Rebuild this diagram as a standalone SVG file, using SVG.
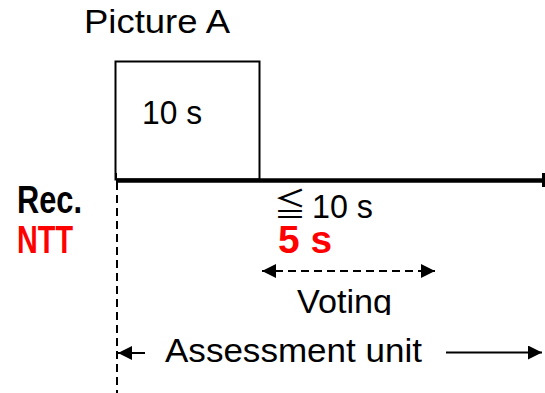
<svg xmlns="http://www.w3.org/2000/svg" width="545" height="393" viewBox="0 0 545 393">
<style>
  .t { font-family: "Liberation Sans", "Noto Sans CJK JP", sans-serif; font-size: 34px; fill: #000; }
  .b { font-family: "Liberation Sans", "Noto Sans CJK JP", sans-serif; font-size: 38px; font-weight: bold; }
  .red { fill: #ff0000; }
  .dash { stroke: #000; stroke-width: 2; stroke-dasharray: 8 5; fill: none; }
  .ln { stroke: #000; fill: none; }
</style>
<defs>
  <marker id="ah" viewBox="0 0 10 10" refX="10" refY="5" markerWidth="16" markerHeight="14" markerUnits="userSpaceOnUse" orient="auto-start-reverse">
    <path d="M0,0 L10,5 L0,10 Z" fill="#000"/>
  </marker>
  <clipPath id="vclip"><rect x="0" y="0" width="545" height="315"/></clipPath>
</defs>
<g id="title"><text class="t" x="84" y="33" textLength="146" lengthAdjust="spacingAndGlyphs">Picture A</text></g>
<g id="pictureA">
  <rect x="115.5" y="61.5" width="144" height="118" class="ln" stroke-width="2"/>
  <text class="t" x="142" y="124" textLength="60" lengthAdjust="spacingAndGlyphs">10 s</text>
</g>
<g id="labels">
  <text class="b" x="17" y="213" textLength="65" lengthAdjust="spacingAndGlyphs">Rec.</text>
  <text class="b red" x="17" y="253" textLength="56" lengthAdjust="spacingAndGlyphs">NTT</text>
  <text x="274" y="216" style="font-family:'Noto Sans CJK JP',sans-serif;font-size:32px">≦</text>
  <text class="t" x="312" y="218" textLength="61" lengthAdjust="spacingAndGlyphs">10 s</text>
  <text class="b red" x="278" y="253" textLength="54" lengthAdjust="spacingAndGlyphs">5 s</text>
  <text class="t" x="297" y="313" textLength="95" lengthAdjust="spacingAndGlyphs" clip-path="url(#vclip)">Voting</text>
  <text class="t" x="165" y="362" textLength="257" lengthAdjust="spacingAndGlyphs">Assessment unit</text>
</g>
<g id="connectors">
  <line x1="116" y1="180.5" x2="543" y2="180.5" class="ln" stroke-width="4.5"/>
  <line x1="543.5" y1="173" x2="543.5" y2="187" class="ln" stroke-width="3"/>
  <line x1="116" y1="173" x2="116" y2="180" class="ln" stroke-width="2"/>
  <line x1="117" y1="182" x2="117" y2="393" class="dash" stroke-dasharray="7 4"/>
  <line x1="262" y1="271" x2="435" y2="271" class="dash" marker-start="url(#ah)" marker-end="url(#ah)"/>
  <line x1="145" y1="353" x2="118" y2="353" class="ln" stroke-width="2" marker-end="url(#ah)"/>
  <line x1="446" y1="352.5" x2="542" y2="352.5" class="ln" stroke-width="2" marker-end="url(#ah)"/>
</g>
</svg>
